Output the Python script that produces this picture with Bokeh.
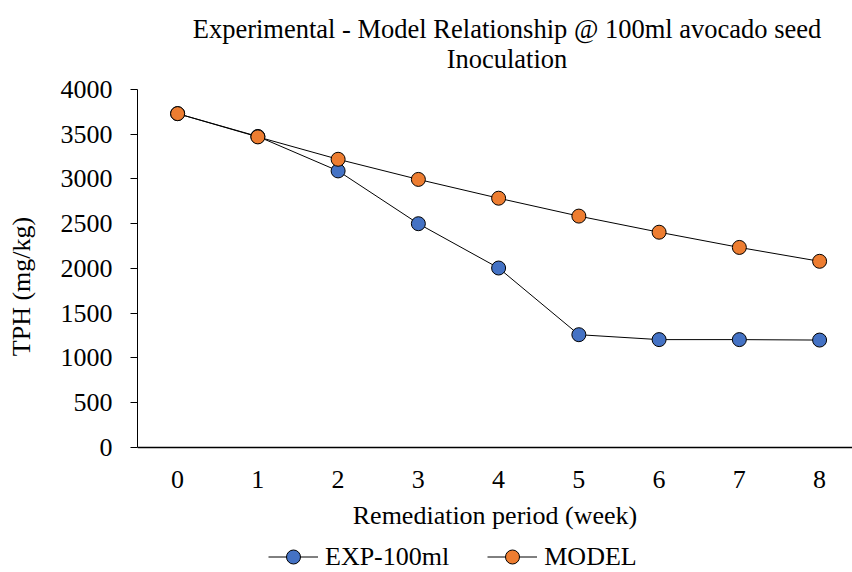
from bokeh.plotting import figure
from bokeh.models import Legend, LegendItem, Label, FixedTicker, Range1d
from bokeh.embed import file_html
from bokeh.resources import INLINE

weeks = [0, 1, 2, 3, 4, 5, 6, 7, 8]
exp_100ml = [3730, 3475, 3090, 2500, 2005, 1260, 1205, 1205, 1200]
model = [3730, 3470, 3220, 2995, 2785, 2585, 2405, 2235, 2080]
y_ticks = [0, 500, 1000, 1500, 2000, 2500, 3000, 3500, 4000]
title_lines = ["Experimental - Model Relationship @ 100ml avocado seed", "Inoculation"]

FONT = "Liberation Serif"
FS = "26px"

# frame fills the canvas height: 4000 sits 89px below the top, 0 sits 125px above the bottom
p = figure(width=852, height=572, output_backend="svg", toolbar_location=None,
           x_range=Range1d(-0.5, 8.41), y_range=Range1d(-1397, 4994),
           min_border_left=137, min_border_right=0, min_border_top=0, min_border_bottom=0)
p.outline_line_color = None
p.xgrid.visible = False
p.ygrid.visible = False
p.background_fill_color = "white"

# two-line title, centred a little right of the frame centre (screen units from frame bottom-left)
for i, line in enumerate(title_lines):
    p.add_layout(Label(x=369.5, y=544 - 30 * i, x_units="screen", y_units="screen",
                       text=line, text_align="center", text_baseline="middle",
                       text_font=FONT, text_font_size="26.5px", text_color="black"))

l1 = p.line(weeks, exp_100ml, line_color="black", line_width=1)
c1 = p.scatter(weeks, exp_100ml, size=14, fill_color="#4472C4", line_color="black", line_width=1)
l2 = p.line(weeks, model, line_color="black", line_width=1)
c2 = p.scatter(weeks, model, size=14, fill_color="#ED7D31", line_color="black", line_width=1)

p.xaxis.ticker = FixedTicker(ticks=weeks)
p.yaxis.ticker = FixedTicker(ticks=y_ticks)
for ax in (p.xaxis, p.yaxis):
    ax.major_label_text_font = FONT
    ax.major_label_text_font_size = FS
    ax.major_label_text_color = "black"
    ax.axis_label_text_font = FONT
    ax.axis_label_text_font_size = FS
    ax.axis_label_text_font_style = "normal"
    ax.axis_label_text_color = "black"
    ax.axis_line_color = "black"
    ax.minor_tick_line_color = None

p.xaxis.fixed_location = 0
p.xaxis.axis_label = "Remediation period (week)"
p.yaxis.axis_label = "TPH (mg/kg)"
p.xaxis.major_tick_line_color = None
p.xaxis.axis_line_width = 1.5
p.xaxis.major_label_standoff = 18
p.xaxis.axis_label_standoff = 9
p.yaxis.bounds = (0, 4000)
p.yaxis.major_tick_line_color = "black"
p.yaxis.major_tick_out = 7
p.yaxis.major_tick_in = 0
p.yaxis.major_label_standoff = 18
p.yaxis.axis_label_standoff = 22

legend = Legend(items=[LegendItem(label="EXP-100ml", renderers=[l1, c1]),
                       LegendItem(label="MODEL", renderers=[l2, c2])],
                orientation="horizontal", location=(131, -2),
                label_text_font=FONT, label_text_font_size=FS, label_text_color="black",
                glyph_width=50, glyph_height=35, spacing=38, label_standoff=7,
                border_line_color=None, background_fill_alpha=0,
                padding=2, margin=0)
p.add_layout(legend, "center")

open("out.html", "w").write(file_html(p, INLINE))
